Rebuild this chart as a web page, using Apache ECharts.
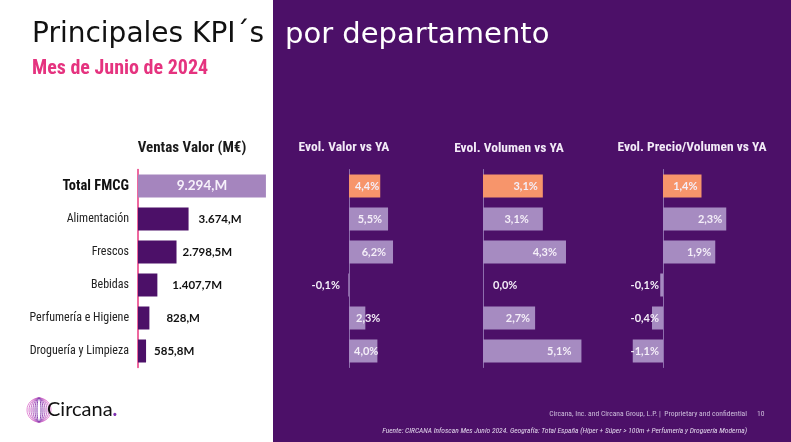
<!DOCTYPE html>
<html>
<head>
<meta charset="utf-8">
<script src="https://cdn.jsdelivr.net/npm/echarts@6/dist/echarts.min.js"></script>
<style>
html,body{margin:0;padding:0;background:#fff;}
#c{width:791px;height:442px;}
</style>
</head>
<body>
<div id="c"></div>
<script>
const categories = ['Total FMCG','Alimentación','Frescos','Bebidas','Perfumería e Higiene','Droguería y Limpieza'];
const ventasValor = [9294, 3674, 2798.5, 1407.7, 828, 585.8];
const ventasLabels = ['9.294,M','3.674,M','2.798,5M','1.407,7M','828,M','585,8M'];
const evolValor = [4.4, 5.5, 6.2, -0.1, 2.3, 4.0];
const evolVolumen = [3.1, 3.1, 4.3, 0.0, 2.7, 5.1];
const evolPrecio = [1.4, 2.3, 1.9, -0.1, -0.4, -1.1];
const sectionTitles = ['Ventas Valor (M€)','Evol. Valor vs YA','Evol. Volumen vs YA','Evol. Precio/Volumen vs YA'];

const PURPLE = '#4C1068';
const LIGHT = '#A68BC1';
const ORANGE = '#F7956B';
const NARROW = "'Liberation Sans Narrow','Roboto Condensed',Roboto,sans-serif";
const LBL = "Lato,'Open Sans',sans-serif";
const HEAD = "'DejaVu Sans','Open Sans',sans-serif";

const chart = echarts.init(document.getElementById('c'));

const gridTop = 169.5, gridH = 198;
const grids = [
  {left: 138, width: 128},
  {left: 341.9, width: 56.8},
  {left: 463.7, width: 135.1},
  {left: 608, width: 137.5}
];
const xRanges = [[0, 9300], [-1, 7], [-1, 6], [-2, 3]];

function pct(v){ return v.toFixed(1).replace('.', ',') + '%'; }

// label placement styles (per row) for each purple panel chart
const valorLbl = [
  {position:'insideRight', distance:1},
  {position:'insideRight', distance:6},
  {position:'insideRight', distance:7},
  {position:'insideRight', distance:9},
  {position:'insideLeft', distance:7},
  {position:'insideLeft', distance:5}
];
const volLbl = [
  {position:'insideRight', distance:5},
  {position:'insideRight', distance:14},
  {position:'insideRight', distance:9},
  {position:'right', distance:10},
  {position:'insideRight', distance:5},
  {position:'insideRight', distance:10}
];
const precioLbl = [
  {position:'insideRight', distance:4},
  {position:'insideRight', distance:4},
  {position:'insideRight', distance:4},
  {position:'insideRight', distance:4},
  {position:'insideRight', distance:4},
  {position:'insideRight', distance:4}
];
const ventasDist = [0, 10, 6, 15, 17, 8];

function evolSeries(vals, lblCfg, idx){
  return {
    type:'bar', xAxisIndex: idx, yAxisIndex: idx, barWidth: 23,
    data: vals.map((v,i)=>({
      value: v,
      itemStyle: {color: i===0 ? ORANGE : LIGHT},
      label: Object.assign({show:true}, lblCfg[i])
    })),
    label: {show:true, color:'#F4EEF8', fontFamily: LBL, fontWeight:'bold', fontSize:11,
      formatter: p => pct(p.value)},
    silent: true
  };
}

const option = {
  backgroundColor: '#ffffff',
  animation: false,
  grid: grids.map(g => ({left:g.left, width:g.width, top:gridTop, height:gridH, containLabel:false})),
  xAxis: xRanges.map((r,i)=>({type:'value', gridIndex:i, min:r[0], max:r[1], show:false})),
  yAxis: [0,1,2,3].map(i=>({
    type:'category', gridIndex:i, data:categories, inverse:true,
    axisTick:{show:false},
    axisLine:{show:true, onZero:true, lineStyle:{color: i===0 ? '#E8367F' : '#8E6EAD', width: i===0 ? 1.5 : 1}},
    axisLabel: i===0 ? {
      show:true, margin:9, fontFamily: NARROW, fontSize:12, color:'#222',
      formatter: (v, k) => k===0 ? '{b|' + v + '}' : v,
      rich: {b:{fontFamily: NARROW, fontSize:14.5, fontWeight:'bold', color:'#111'}}
    } : {show:false}
  })),
  series: [
    {
      type:'bar', xAxisIndex:0, yAxisIndex:0, barWidth:23, silent:true,
      data: ventasValor.map((v,i)=>({
        value:v,
        itemStyle:{color: i===0 ? '#A585BE' : PURPLE},
        label: i===0 ? {show:true, position:'inside', color:'#F6F0FA', fontSize:13.5}
                     : {show:true, position:'right', distance: ventasDist[i], color:'#111', fontSize:11.5}
      })),
      label:{show:true, fontFamily: LBL, fontWeight:'bold', formatter: p => ventasLabels[p.dataIndex]}
    },
    evolSeries(evolValor, valorLbl, 1),
    evolSeries(evolVolumen, volLbl, 2),
    evolSeries(evolPrecio, precioLbl, 3)
  ],
  graphic: [
    {type:'rect', z:-10, shape:{x:273, y:0, width:518, height:442}, style:{fill:PURPLE}},
    {type:'text', style:{text:'Principales KPI´s', x:32, y:35, textVerticalAlign:'middle', fill:'#111', font:"400 28px " + HEAD}},
    {type:'text', style:{text:'por departamento', x:285, y:35, textVerticalAlign:'middle', fill:'#ffffff', font:"400 29px " + HEAD}},
    {type:'text', style:{text:'Mes de Junio de 2024', x:32, y:69, textVerticalAlign:'middle', fill:'#E5337F', font:"bold 20px " + NARROW}},
    {type:'text', style:{text:sectionTitles[0], x:192, y:148, textAlign:'center', textVerticalAlign:'middle', fill:'#1a1a1a', font:"bold 15px " + NARROW}},
    {type:'text', style:{text:sectionTitles[1], x:344, y:148, textAlign:'center', textVerticalAlign:'middle', fill:'#F2EAF7', font:"bold 13.5px " + NARROW}},
    {type:'text', style:{text:sectionTitles[2], x:509, y:149, textAlign:'center', textVerticalAlign:'middle', fill:'#F2EAF7', font:"bold 13.5px " + NARROW}},
    {type:'text', style:{text:sectionTitles[3], x:692, y:148, textAlign:'center', textVerticalAlign:'middle', fill:'#F2EAF7', font:"bold 13.5px " + NARROW}},
    {type:'text', style:{text:'Circana, Inc. and Circana Group, L.P. |  Proprietary and confidential', x:747, y:414, textAlign:'right', textVerticalAlign:'middle', fill:'#CDBDDB', font:"7.6px " + NARROW}},
    {type:'text', style:{text:'10', x:757, y:414, textVerticalAlign:'middle', fill:'#CDBDDB', font:"7.6px " + NARROW}},
    {type:'text', style:{text:'Fuente: CIRCANA Infoscan Mes Junio 2024. Geografía: Total España (Híper + Súper > 100m + Perfumería y Droguería Moderna)', x:747, y:431, textAlign:'right', textVerticalAlign:'middle', fill:'#E0D4EA', font:"italic 7.5px " + NARROW}},
    // Circana logo
    {type:'ellipse', shape:{cx:39, cy:410, rx:12, ry:12}, style:{fill:'none', stroke:'#E48AD6', lineWidth:1}},
    {type:'ellipse', shape:{cx:39, cy:410, rx:10, ry:12}, style:{fill:'none', stroke:'#D57ACF', lineWidth:1}},
    {type:'ellipse', shape:{cx:39, cy:410, rx:8, ry:12}, style:{fill:'none', stroke:'#C46CC8', lineWidth:1}},
    {type:'ellipse', shape:{cx:39, cy:410, rx:6, ry:12}, style:{fill:'none', stroke:'#B05CC0', lineWidth:1}},
    {type:'ellipse', shape:{cx:39, cy:410, rx:4, ry:12}, style:{fill:'none', stroke:'#9A4DB8', lineWidth:1}},
    {type:'ellipse', shape:{cx:39, cy:410, rx:2, ry:12}, style:{fill:'none', stroke:'#8440AE', lineWidth:1}},
    {type:'text', style:{text:'{a|Circana}{b|.}', x:47, y:410, textVerticalAlign:'middle',
      rich:{a:{fill:'#111', font:"400 20px Lato, 'Open Sans', sans-serif"}, b:{fill:'#7E2FB0', font:"bold 20px Lato, sans-serif"}}}}
  ]
};
chart.setOption(option);
</script>
</body>
</html>
